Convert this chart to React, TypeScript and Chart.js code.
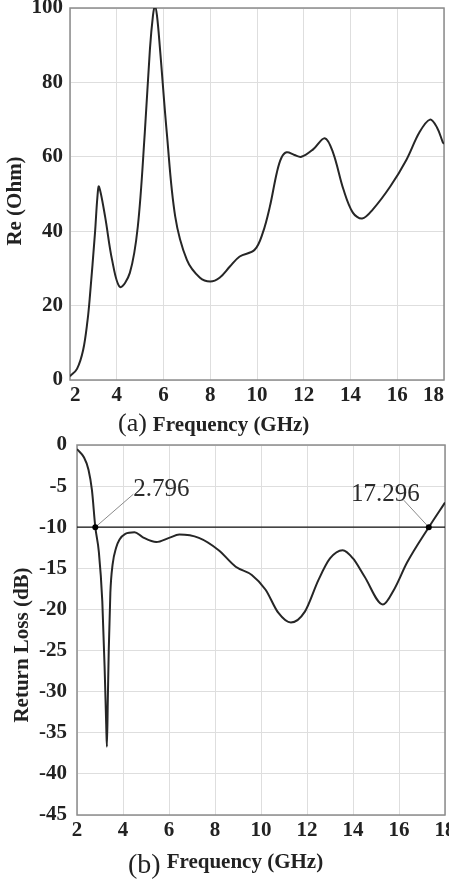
import React, { useEffect, useRef } from "react";
import { Chart, registerables } from "chart.js";

Chart.register(...registerables);

// ---------- data ----------
const freqTicks = [2, 4, 6, 8, 10, 12, 14, 16, 18];
const reTicks = [0, 20, 40, 60, 80, 100];
const rlTicks = [0, -5, -10, -15, -20, -25, -30, -35, -40, -45];

// (a) real part of input impedance
const reFreq = [2.0, 2.3, 2.56, 2.75, 2.85, 3.07, 3.17, 3.24, 3.5, 3.8, 4.14, 4.56, 4.9, 5.2, 5.42, 5.55, 5.63, 5.72, 5.85, 6.14, 6.5, 7.0, 7.56, 8.0, 8.4, 8.84, 9.26, 9.9, 10.25, 10.55, 10.85, 11.05, 11.27, 11.6, 11.9, 12.4, 12.9, 13.25, 13.7, 14.1, 14.5, 14.95, 15.7, 16.4, 16.95, 17.4, 17.7, 17.95, 18.0];
const reOhm = [1, 3, 8, 16, 22.4, 39.6, 49, 52, 44, 32.3, 25, 28.8, 41.2, 66.5, 89, 98, 100.5, 98, 89, 66.5, 44, 32.3, 27.5, 26.5, 27.5, 30.5, 33.2, 35, 39.6, 46.6, 55.8, 59.8, 61.2, 60.5, 60, 62, 65, 61.2, 51.2, 45, 43.4, 45.8, 52, 59.3, 66.6, 70, 67.9, 63.9, 63.5];

// (b) return loss
const rlFreq = [2.0, 2.3, 2.5, 2.65, 2.796, 2.95, 3.1, 3.2, 3.27, 3.3, 3.34, 3.38, 3.45, 3.55, 3.7, 3.85, 4.1, 4.5, 4.85, 5.45, 6.0, 6.45, 7.3, 8.16, 8.9, 9.6, 10.2, 10.75, 11.3, 11.9, 12.5, 13.0, 13.55, 14.0, 14.5, 15.3, 15.8, 16.35, 17.296, 18.0];
const rlDb = [-0.5, -1.5, -3, -5.5, -10, -13, -19, -27, -34, -36.7, -31, -25, -18, -14.5, -12.5, -11.5, -10.8, -10.6, -11.2, -11.8, -11.3, -10.9, -11.3, -12.8, -14.8, -15.8, -17.6, -20.4, -21.6, -20.3, -16.4, -13.8, -12.8, -13.8, -16, -19.4, -17.5, -14.3, -10, -7];

const thresholdDb = -10;
const crossFreqs = [2.796, 17.296];
const crossLabels = ["2.796", "17.296"];

// ---------- styles ----------
const SERIF = '"Liberation Serif", "Times New Roman", serif';
const GRID = "#dedede";
const FRAME = "#8c8c8c";
const INK = "#222222";

const framePlugin = {
  id: "frame",
  beforeDatasetsDraw(chart: any) {
    const { ctx, chartArea: a } = chart;
    ctx.save();
    ctx.strokeStyle = FRAME;
    ctx.lineWidth = 1.5;
    ctx.strokeRect(a.left, a.top, a.right - a.left, a.bottom - a.top);
    ctx.restore();
  },
};

function textPlugin(opts: {
  yTitle: string;
  yTitleX: number;
  yTitleY: number;
  tag: string;
  tagSize: number;
  tagX: number;
  tagBase: number;
  capBase: number;
}) {
  return {
    id: "texts",
    afterDraw(chart: any) {
      const { ctx } = chart;
      ctx.save();
      ctx.fillStyle = INK;
      ctx.save();
      ctx.translate(opts.yTitleX, opts.yTitleY);
      ctx.rotate(-Math.PI / 2);
      ctx.font = `bold 21px ${SERIF}`;
      ctx.textAlign = "center";
      ctx.textBaseline = "middle";
      ctx.fillText(opts.yTitle, 0, 0);
      ctx.restore();
      ctx.textAlign = "left";
      ctx.textBaseline = "alphabetic";
      ctx.font = `${opts.tagSize}px ${SERIF}`;
      ctx.fillText(opts.tag, opts.tagX, opts.tagBase);
      const w = ctx.measureText(opts.tag).width;
      ctx.font = `bold 21px ${SERIF}`;
      ctx.fillText("Frequency (GHz)", opts.tagX + w + 6, opts.capBase);
      ctx.restore();
    },
  };
}

const annotationPlugin = {
  id: "crossAnnotations",
  beforeDatasetsDraw(chart: any) {
    const { ctx } = chart;
    const xs = chart.scales.x;
    const ys = chart.scales.y;
    const py = ys.getPixelForValue(thresholdDb);
    ctx.save();
    ctx.strokeStyle = "#8a8a8a";
    ctx.lineWidth = 1;
    crossFreqs.forEach((f, i) => {
      const px = xs.getPixelForValue(f);
      ctx.beginPath();
      ctx.moveTo(px, py);
      if (i === 0) ctx.lineTo(px + 38, py - 33);
      else ctx.lineTo(px - 25, py - 27);
      ctx.stroke();
    });
    ctx.restore();
  },
  afterDraw(chart: any) {
    const { ctx } = chart;
    const xs = chart.scales.x;
    const ys = chart.scales.y;
    const py = ys.getPixelForValue(thresholdDb);
    ctx.save();
    ctx.fillStyle = "#2a2a2a";
    ctx.font = `25px ${SERIF}`;
    ctx.textBaseline = "alphabetic";
    crossFreqs.forEach((f, i) => {
      const px = xs.getPixelForValue(f);
      if (i === 0) {
        ctx.textAlign = "left";
        ctx.fillText(crossLabels[i], px + 38, py - 31);
      } else {
        ctx.textAlign = "right";
        ctx.fillText(crossLabels[i], px - 9, py - 26);
      }
    });
    ctx.restore();
  },
};

function xScale(height: number, align: string) {
  return {
    type: "linear",
    min: 2,
    max: 18,
    afterBuildTicks: (s: any) => {
      s.ticks = freqTicks.map((v) => ({ value: v }));
    },
    afterFit: (s: any) => {
      s.height = height;
      s.paddingLeft = 0;
      s.paddingRight = 0;
    },
    grid: { color: GRID, lineWidth: 1, drawTicks: false },
    border: { display: false },
    ticks: {
      font: { family: SERIF, size: 21, weight: "bold" },
      color: INK,
      padding: 3,
      align,
      maxRotation: 0,
      autoSkip: false,
    },
  };
}

function yScale(min: number, max: number, ticks: number[], width: number, pad: number) {
  return {
    type: "linear",
    min,
    max,
    afterBuildTicks: (s: any) => {
      s.ticks = ticks.map((v) => ({ value: v }));
    },
    afterFit: (s: any) => {
      s.width = width;
      s.paddingTop = 0;
      s.paddingBottom = 0;
    },
    grid: { color: GRID, lineWidth: 1, drawTicks: false },
    border: { display: false },
    ticks: {
      font: { family: SERIF, size: 21, weight: "bold" },
      color: INK,
      padding: pad,
      autoSkip: false,
    },
  };
}

function ImpedanceChart() {
  const ref = useRef<HTMLCanvasElement | null>(null);
  useEffect(() => {
    if (!ref.current) return;
    const chart = new Chart(ref.current, {
      type: "line",
      data: {
        datasets: [
          {
            data: reFreq.map((f, i) => ({ x: f, y: reOhm[i] })),
            borderColor: "#262626",
            borderWidth: 2,
            pointRadius: 0,
            fill: false,
            tension: 0.35,
          },
        ],
      },
      options: {
        animation: false,
        responsive: false,
        layout: { padding: { top: 8, right: 5, left: 0, bottom: 0 } },
        plugins: { legend: { display: false }, tooltip: { enabled: false } },
        scales: {
          x: xScale(62, "inner"),
          y: yScale(0, 100, reTicks, 70, 7),
        },
      } as any,
      plugins: [
        framePlugin,
        textPlugin({
          yTitle: "Re (Ohm)",
          yTitleX: 16,
          yTitleY: 201,
          tag: "(a)",
          tagSize: 26,
          tagX: 118,
          tagBase: 431,
          capBase: 431,
        }),
      ],
    } as any);
    return () => chart.destroy();
  }, []);
  return (
    <canvas
      ref={ref}
      width={449}
      height={442}
      style={{ position: "absolute", left: 0, top: 0, width: 449, height: 442 }}
    />
  );
}

function ReturnLossChart() {
  const ref = useRef<HTMLCanvasElement | null>(null);
  useEffect(() => {
    if (!ref.current) return;
    const chart = new Chart(ref.current, {
      type: "line",
      data: {
        datasets: [
          {
            data: rlFreq.map((f, i) => ({ x: f, y: rlDb[i] })),
            borderColor: "#262626",
            borderWidth: 2,
            pointRadius: 0,
            fill: false,
            cubicInterpolationMode: "monotone",
            order: 2,
          },
          {
            data: [
              { x: freqTicks[0], y: thresholdDb },
              { x: freqTicks[freqTicks.length - 1], y: thresholdDb },
            ],
            borderColor: "#111111",
            borderWidth: 1.3,
            pointRadius: 0,
            fill: false,
            order: 3,
          },
          {
            data: crossFreqs.map((f) => ({ x: f, y: thresholdDb })),
            showLine: false,
            pointRadius: 3,
            pointBackgroundColor: "#000000",
            pointBorderColor: "#000000",
            pointBorderWidth: 0,
            order: 1,
          },
        ],
      },
      options: {
        animation: false,
        responsive: false,
        layout: { padding: { top: 15, right: 1, left: 0, bottom: 0 } },
        plugins: { legend: { display: false }, tooltip: { enabled: false } },
        scales: {
          x: xScale(64, "center"),
          y: yScale(-45, 0, rlTicks, 77, 10),
        },
      } as any,
      plugins: [
        framePlugin,
        annotationPlugin,
        textPlugin({
          yTitle: "Return Loss (dB)",
          yTitleX: 23,
          yTitleY: 215,
          tag: "(b)",
          tagSize: 28,
          tagX: 128,
          tagBase: 443,
          capBase: 438,
        }),
      ],
    } as any);
    return () => chart.destroy();
  }, []);
  return (
    <canvas
      ref={ref}
      width={449}
      height={449}
      style={{ position: "absolute", left: 0, top: 430, width: 449, height: 449 }}
    />
  );
}

export default function App() {
  return (
    <div
      style={{
        position: "fixed",
        left: 0,
        top: 0,
        width: 449,
        height: 879,
        background: "#ffffff",
        overflow: "hidden",
      }}
    >
      <ImpedanceChart />
      <ReturnLossChart />
    </div>
  );
}
